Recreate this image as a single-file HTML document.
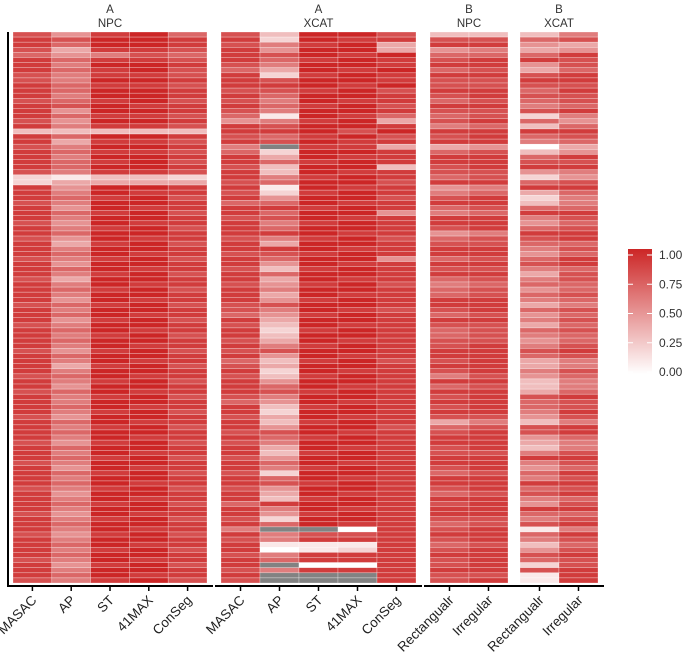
<!DOCTYPE html>
<html><head><meta charset="utf-8"><style>
html,body{margin:0;padding:0;background:#fff;}
svg{display:block;font-family:"Liberation Sans",sans-serif;}
</style></head><body>
<svg id="chart" width="685" height="655" viewBox="0 0 685 655" xmlns="http://www.w3.org/2000/svg">
<g id="cells"></g>
<g id="axes"></g>
<g id="legend"></g>
</svg>
<script>
// ---- data (value*10, null = missing) ----
const aNpcMasac = [8,9,9,8,7,9,9,9,8,8,9,9, 9,8,9,9,9,8,9,3,9,9,8,9, 9,9,9,8,2,2,9,9,9,8,9,9, 9,8,9,9,8,9,9,9,8,9,9,9, 8,9,9,9,9,8,9,9,9,8,9,9, 9,9,8,9,9,9,9,8,9,9,8,9, 9,9,9,8,9,9,9,9,8,9,9,9, 8,9,9,9,9,8,9,9,9,9,8,9, 9,9,8,9,9,9,9,8,9,9,9,8];
const aNpcAp = [5,8,7,4,5,7,6,7,6,6,7,7, 6,7,8,5,7,5,6,3,7,4,6,7, 6,7,7,6,1,4,5,6,7,6,5,7, 6,5,6,7,5,4,6,7,6,5,7,6, 4,6,7,6,5,7,6,7,5,6,7,6, 7,6,5,7,6,4,6,7,6,5,7,6, 6,7,6,5,7,6,7,6,5,7,6,7, 6,5,7,6,7,6,5,6,7,6,5,6, 7,6,5,6,7,6,7,6,5,6,7,6];
const aNpcSt = [9,10,10,9,6,9,10,9,9,10,9,10, 10,9,10,10,9,10,9,3,10,9,10,9, 10,9,10,9,3,4,10,10,9,10,10,9, 10,10,9,10,10,9,10,10,9,10,10,9, 10,10,9,10,10,9,10,10,9,10,10,9, 10,10,9,10,10,9,10,10,9,10,10,9, 10,10,9,10,10,9,10,10,9,10,10,9, 10,10,9,10,10,9,10,10,9,10,10,9, 10,10,9,10,10,9,10,10,9,10,10,9];
const aNpc41max = [10,10,10,9,8,9,10,10,9,10,9,10, 10,10,9,10,9,10,9,3,10,9,10,9, 10,10,10,9,3,4,10,9,10,10,9,10, 10,9,10,10,9,10,10,9,10,10,9,10, 10,9,10,10,9,10,10,9,10,10,9,10, 10,9,10,10,9,10,10,9,10,10,9,10, 10,9,10,10,9,10,10,9,10,10,9,10, 10,9,10,10,9,10,10,9,10,10,9,10, 10,9,10,10,9,10,10,9,10,10,9,10];
const aNpcConseg = [7,9,9,8,7,8,9,8,8,9,8,9, 9,8,9,9,8,9,8,3,9,8,9,8, 9,8,9,8,2,4,9,9,8,9,9,8, 9,9,8,9,9,8,9,9,8,9,9,8, 9,9,8,9,9,8,9,9,8,9,9,8, 9,9,8,9,9,8,9,9,8,9,9,8, 9,9,8,9,9,8,9,9,8,9,9,8, 9,9,8,9,9,8,9,9,8,9,9,8, 9,9,8,9,9,8,9,9,8,9,9,8];
const aXcatMasac = [8,9,8,9,9,9,8,7,9,9,9,8, 9,8,9,8,7,5,9,9,8,9,6,7, 9,9,8,9,9,8,9,8,9,7,9,9, 8,9,9,9,8,9,9,8,9,9,8,9, 9,8,9,9,9,8,8,7,9,8,9,9, 8,9,8,9,7,8,9,8,9,9,9,8, 7,9,9,8,9,9,8,9,8,9,9,8, 9,9,8,9,9,8,9,9,7,9,9,8, 9,6,9,8,9,9,8,9,9,8,9,8];
const aXcatAp = [3,2,6,5,8,7,6,4,2,8,9,8, 7,6,7,6,1,6,8,9,7,8,null,2, 4,7,3,3,6,7,1,2,5,7,9,7, 8,6,7,9,6,4,9,8,7,5,3,7, 4,5,6,4,5,8,6,5,4,3,2,3, 4,6,8,5,3,4,2,3,5,7,8,6, 5,3,2,4,3,5,8,7,6,4,3,5, 7,6,2,7,8,5,4,3,9,6,5,2, 7,null,6,6,1,0,6,7,null,6,null,null];
const aXcatSt = [10,10,9,10,10,9,10,10,9,10,10,9, 10,10,9,10,10,9,10,10,9,10,9,10, 10,9,10,10,9,10,10,9,10,10,9,10, 10,9,10,10,9,10,10,9,10,10,9,10, 10,9,10,10,9,10,10,9,10,10,9,10, 10,9,10,10,9,10,10,9,10,10,9,10, 10,9,10,10,9,10,10,9,10,10,9,10, 10,9,10,10,9,10,10,9,10,10,9,10, 10,null,8,9,1,1,9,9,0,9,null,null];
const aXcat41max = [10,9,10,10,9,10,10,9,10,10,9,10, 10,9,10,10,9,10,10,8,10,9,9,10, 9,10,10,9,10,10,9,10,10,9,10,10, 9,10,10,9,10,10,9,10,10,9,10,10, 9,10,10,9,10,10,9,10,10,9,10,10, 9,10,10,9,10,10,9,10,10,9,10,10, 9,10,10,9,10,10,9,10,10,9,10,10, 9,10,10,9,10,10,9,10,10,9,10,10, 9,0,8,9,1,2,9,9,0,9,null,null];
const aXcatConseg = [8,9,4,4,10,9,9,10,9,9,10,8, 9,9,8,9,7,4,9,10,8,9,4,9, 9,9,3,9,9,8,9,9,8,9,9,5, 9,9,9,9,8,9,9,9,5,9,9,9, 9,8,9,9,9,9,8,9,9,9,9,9, 9,9,9,9,8,9,9,9,9,9,9,9, 9,9,9,9,9,8,9,9,9,9,9,9, 9,9,9,9,9,9,9,9,9,9,9,9, 9,9,9,9,9,9,9,9,9,9,9,9];
const bNpcRect = [3,8,9,5,7,8,9,7,9,8,8,9, 8,7,9,8,7,8,6,9,8,9,4,7, 9,9,8,8,7,9,5,6,8,9,7,6, 9,9,8,5,7,8,9,9,7,9,8,9, 7,6,7,7,9,9,8,7,9,8,7,7, 8,8,9,9,8,9,8,6,9,7,9,8, 9,8,9,8,4,7,8,9,9,8,8,9, 9,8,7,9,9,8,7,9,8,9,9,8, 7,8,9,8,7,8,9,8,8,9,8,8];
const bNpcIrreg = [3,8,9,6,7,9,9,8,9,8,8,9, 9,8,9,8,8,9,7,9,9,9,5,8, 9,9,9,8,8,9,6,7,9,9,8,7, 9,9,9,6,8,8,9,9,8,9,8,9, 8,7,8,8,9,9,9,8,9,8,8,8, 8,9,9,9,9,9,9,8,9,8,9,9, 9,9,9,8,6,8,9,9,9,9,8,9, 9,9,8,9,9,9,8,9,9,9,9,8, 8,9,9,9,8,9,9,9,9,9,8,9];
const bXcatRect = [3,7,5,4,7,9,5,4,8,9,8,7, 8,7,6,8,2,7,3,9,7,6,0,3, 7,8,9,5,2,7,9,4,2,3,7,9, 6,5,7,9,8,7,6,5,7,8,6,4, 6,7,5,7,6,4,7,5,6,4,7,6, 5,6,8,7,4,4,6,5,3,3,4,8, 7,7,6,5,3,8,8,5,4,3,6,9, 6,5,7,6,9,7,8,6,5,9,7,6, 8,1,7,6,3,5,8,7,2,8,1,1];
const bXcatIrreg = [6,8,4,5,9,8,8,7,9,9,8,9, 8,8,7,9,6,5,7,9,8,7,4,5, 9,8,9,6,5,8,9,7,6,6,7,9, 8,7,8,9,9,7,8,7,9,9,7,8, 8,7,7,8,7,6,8,7,8,7,8,7, 7,8,9,8,6,6,8,7,6,6,7,9, 8,8,9,8,6,9,9,7,6,6,8,9, 8,7,9,8,9,8,9,7,8,9,7,8, 9,6,9,8,7,8,9,8,8,9,9,9];

const panelTop = ["A","A","B","B"];
const panelSub = ["NPC","XCAT","NPC","XCAT"];
const panelCols = [["MASAC","AP","ST","41MAX","ConSeg"],["MASAC","AP","ST","41MAX","ConSeg"],["Rectangualr","Irregular"],["Rectangualr","Irregular"]];
const panelData = [[aNpcMasac,aNpcAp,aNpcSt,aNpc41max,aNpcConseg],[aXcatMasac,aXcatAp,aXcatSt,aXcat41max,aXcatConseg],[bNpcRect,bNpcIrreg],[bXcatRect,bXcatIrreg]];
const legendTicks = [1.00,0.75,0.50,0.25,0.00];

// ---- layout ----
const NS="http://www.w3.org/2000/svg";
const panelX=[13,221,430,520], colW=[38.8,39,39,39];
const yTop=32, yBottom=583, nRows=108;
const rowH=(yBottom-yTop)/nRows;
const yRow=i=>yTop+i*rowH;
const xCol=(p,j)=>panelX[p]+j*colW[p];
function color(v){
  if(v===null||v===undefined) return "#828282";
  const t=Math.max(0,Math.min(1,v/10));
  const r=Math.round(255+(204-255)*t), g=Math.round(255+(38-255)*t), b=Math.round(255+(38-255)*t);
  return `rgb(${r},${g},${b})`;
}
function mk(tag,attrs,parent){const e=document.createElementNS(NS,tag);for(const k in attrs)e.setAttribute(k,attrs[k]);parent.appendChild(e);return e;}
const cells=document.getElementById('cells'), axes=document.getElementById('axes'), legend=document.getElementById('legend');

panelData.forEach((cols,p)=>{
  cols.forEach((arr,j)=>{
    for(let i=0;i<nRows;i++){
      const r=mk('rect',{x:xCol(p,j),y:yRow(i),width:colW[p],height:rowH,fill:color(arr[i]),stroke:"rgba(255,255,255,0.45)","stroke-width":0.6},cells);
      
      
    }
  });
  const cx=panelX[p]+cols.length*colW[p]/2;
  const t1=mk('text',{x:cx,y:13,"text-anchor":"middle","font-size":11.5,fill:"#333"},axes);t1.textContent=panelTop[p];
  
  
  const t2=mk('text',{x:cx,y:27,"text-anchor":"middle","font-size":11.5,fill:"#333"},axes);t2.textContent=panelSub[p];
  
  
  const x0=panelX[p]-6, x1=panelX[p]+cols.length*colW[p]+6;
  const ax=mk('line',{x1:x0,x2:x1,y1:586,y2:586,stroke:"#000","stroke-width":2},axes);
  
  
  panelCols[p].forEach((lab,j)=>{
    const tx=xCol(p,j)+colW[p]/2;
    const tk=mk('line',{x1:tx,x2:tx,y1:586,y2:591,stroke:"#000","stroke-width":1.5},axes);
    
    
    const ax0=tx+5, ay0=601;
    const tl=mk('text',{x:ax0,y:ay0,"text-anchor":"end","font-size":13.5,fill:"#222",transform:`rotate(-45 ${ax0} ${ay0})`},axes);
    tl.textContent=lab;
    
    
  });
});
const yl=mk('line',{x1:8,x2:8,y1:32,y2:586,stroke:"#000","stroke-width":2},axes);



// legend
const defs=mk('defs',{},legend);
const lg=mk('linearGradient',{id:'lg',x1:0,y1:1,x2:0,y2:0},defs);
mk('stop',{offset:0,"stop-color":color(0)},lg);
mk('stop',{offset:0.5,"stop-color":color(5)},lg);
mk('stop',{offset:1,"stop-color":color(10)},lg);
const lgY=v=>372-v*(372-255);
const bar=mk('rect',{x:628,y:249,width:24,height:125,fill:"url(#lg)"},legend);


legendTicks.forEach(v=>{
  const y=lgY(v);
  mk('line',{x1:628,x2:633,y1:y,y2:y,stroke:"#fff","stroke-width":1},legend);
  mk('line',{x1:647,x2:652,y1:y,y2:y,stroke:"#fff","stroke-width":1},legend);
  const t=mk('text',{x:659,y:y+4,"font-size":12,fill:"#333"},legend);
  t.textContent=v.toFixed(2);
  
  
});
</script>
</body></html>
